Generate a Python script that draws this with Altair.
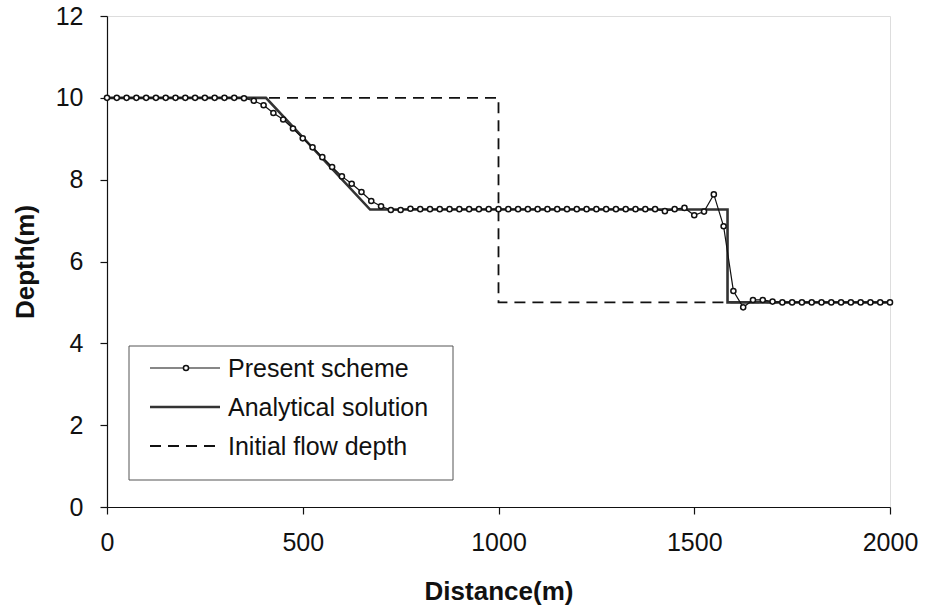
import altair as alt
import pandas as pd

# ---------------- data ----------------
present_x = [0, 25, 50, 75, 100, 125, 150, 175, 200, 225, 250, 275, 300, 325,
             350, 375, 400, 425, 450, 475, 500, 525, 550, 575, 600, 625, 650, 675,
             700, 725, 750, 775,
             800, 825, 850, 875, 900, 925, 950, 975, 1000, 1025, 1050, 1075, 1100,
             1125, 1150, 1175, 1200, 1225, 1250, 1275, 1300, 1325, 1350, 1375, 1400,
             1425, 1450, 1475, 1500, 1525, 1550, 1575, 1600, 1625, 1650, 1675, 1700,
             1725, 1750, 1775, 1800, 1825, 1850, 1875, 1900, 1925, 1950, 1975, 2000]
present_y = [10.0, 10.0, 10.0, 10.0, 10.0, 10.0, 10.0, 10.0, 10.0, 10.0, 10.0, 10.0, 10.0, 10.0,
             9.99, 9.93, 9.82, 9.63, 9.47, 9.25, 9.01, 8.79, 8.55, 8.31, 8.08, 7.90, 7.70, 7.48,
             7.35, 7.26, 7.26, 7.29,
             7.28, 7.28, 7.28, 7.28, 7.28, 7.28, 7.28, 7.28, 7.28, 7.28, 7.28, 7.28, 7.28,
             7.28, 7.28, 7.28, 7.28, 7.28, 7.28, 7.28, 7.28, 7.28, 7.28, 7.28, 7.28,
             7.23, 7.28, 7.31, 7.13, 7.22, 7.64, 6.86, 5.28, 4.88, 5.06, 5.06, 5.02,
             5.0, 5.0, 5.0, 5.0, 5.0, 5.0, 5.0, 5.0, 5.0, 5.0, 5.0, 5.0]

analytical_x = [0, 406, 672, 1585, 1585, 2000]
analytical_y = [10.0, 10.0, 7.27, 7.27, 5.0, 5.0]

initial_x = [0, 1000, 1000, 2000]
initial_y = [10.0, 10.0, 5.0, 5.0]

series_names = ["Present scheme", "Analytical solution", "Initial flow depth"]
x_ticks = [0, 500, 1000, 1500, 2000]
y_ticks = [0, 2, 4, 6, 8, 10, 12]

present_df = pd.DataFrame({"x": present_x, "y": present_y, "o": range(len(present_x))})
analytical_df = pd.DataFrame({"x": analytical_x, "y": analytical_y, "o": range(len(analytical_x))})
initial_df = pd.DataFrame({"x": initial_x, "y": initial_y, "o": range(len(initial_x))})

FONT = "Liberation Sans"
INK = "#111111"

xs = alt.Scale(domain=[0, 2000], nice=False, zero=False)
ys = alt.Scale(domain=[0, 12], nice=False, zero=False)

common = dict(
    grid=False, format="d", labelFlush=False,
    labelFont=FONT, labelFontSize=25, labelColor=INK,
    titleFont=FONT, titleFontSize=26, titleFontWeight="bold", titleColor=INK,
    domainColor=INK, domainWidth=1.2, tickColor=INK, tickSize=7, tickWidth=1.2,
    titleBaseline="middle", titleAnchor="middle",
)

x_axis = alt.Axis(values=x_ticks, title="Distance(m)", titleX=391.5, titleY=84,
                  labelPadding=16, **common)
y_axis = alt.Axis(values=y_ticks, title="Depth(m)", titleX=-82, titleY=245.5,
                  titleAngle=270, labelPadding=17, **common)

X = alt.X("x:Q", scale=xs, axis=x_axis)
Y = alt.Y("y:Q", scale=ys, axis=y_axis)

initial = alt.Chart(initial_df).mark_line(
    color=INK, strokeWidth=1.8, strokeDash=[11, 7]
).encode(x=X, y=Y, order="o:Q")

analytical = alt.Chart(analytical_df).mark_line(
    color="#333333", strokeWidth=2.6
).encode(x=X, y=Y, order="o:Q")

present_line = alt.Chart(present_df).mark_line(
    color=INK, strokeWidth=1.2
).encode(x=X, y=Y, order="o:Q")

present_pts = alt.Chart(present_df).mark_point(
    shape="circle", filled=True, fill="white", stroke=INK, strokeWidth=1.5,
    size=26, opacity=1
).encode(x=X, y=Y)

# ---------------- manual legend (pixel layout) ----------------
one = pd.DataFrame({"k": [0]})
leg_box = alt.Chart(one).mark_rect(fill="white", stroke="#555555", strokeWidth=1).encode(
    x=alt.value(22), x2=alt.value(346), y=alt.value(330), y2=alt.value(464))

row_y = [352, 391, 430]
sx0, sx1, tx = 43, 113, 121

leg_l1 = alt.Chart(one).mark_rule(color=INK, strokeWidth=1.2).encode(
    x=alt.value(sx0), x2=alt.value(sx1), y=alt.value(row_y[0]))
leg_p1 = alt.Chart(one).mark_point(shape="circle", filled=True, fill="white",
                                   stroke=INK, strokeWidth=1.5, size=26, opacity=1).encode(
    x=alt.value(79), y=alt.value(row_y[0]))
leg_l2 = alt.Chart(one).mark_rule(color="#333333", strokeWidth=2.6).encode(
    x=alt.value(sx0), x2=alt.value(sx1), y=alt.value(row_y[1]))
leg_l3 = alt.Chart(one).mark_rule(color=INK, strokeWidth=1.8, strokeDash=[11, 7]).encode(
    x=alt.value(sx0), x2=alt.value(sx1), y=alt.value(row_y[2]))

texts = []
for name, yy in zip(series_names, row_y):
    texts.append(
        alt.Chart(pd.DataFrame({"label": [name]})).mark_text(
            align="left", baseline="middle", font=FONT, fontSize=25, color=INK
        ).encode(x=alt.value(tx), y=alt.value(yy + 1), text="label:N")
    )

chart = alt.layer(
    initial, analytical, present_line, present_pts,
    leg_box, leg_l1, leg_p1, leg_l2, leg_l3, *texts
).properties(
    width=783, height=491,
    padding={"left": 107, "top": 16, "right": 35, "bottom": 107},
    autosize=alt.AutoSizeParams(type="none"),
).configure_view(
    stroke="#888888", strokeWidth=1, strokeDash=[2, 2]
).configure(background="white")

chart.save("out.html", embed_options={"renderer": "svg", "actions": False})
